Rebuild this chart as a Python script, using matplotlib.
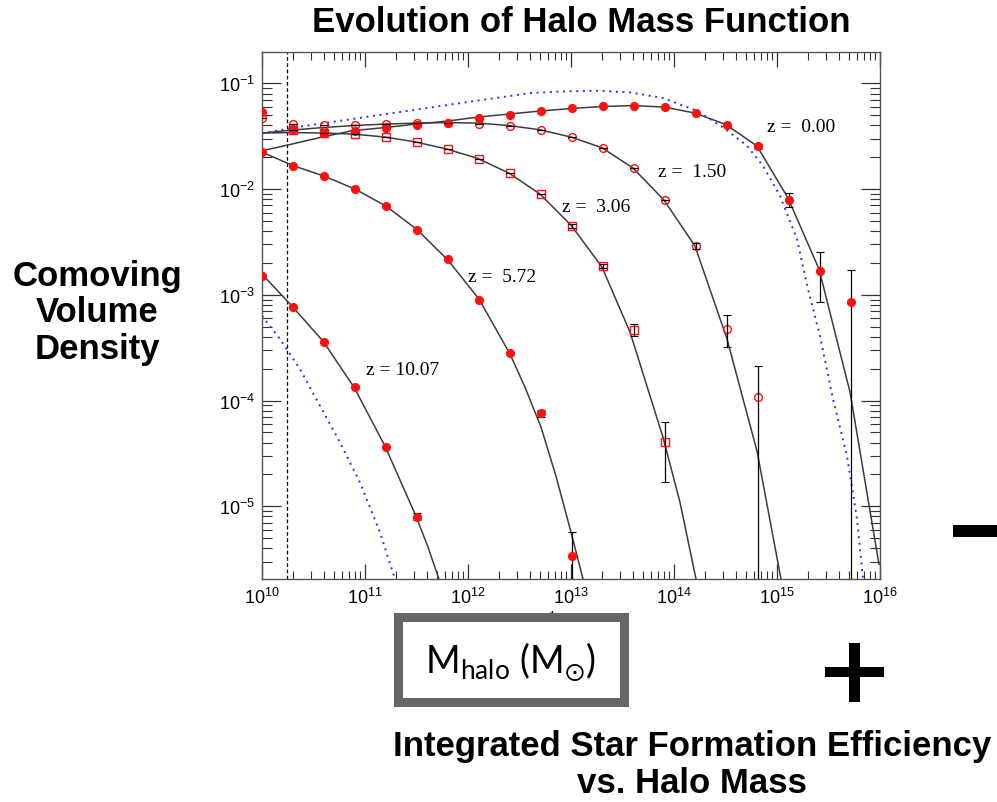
import numpy as np
import matplotlib.pyplot as plt
from matplotlib.patches import Rectangle
from matplotlib.ticker import LogLocator, NullFormatter

plt.rcParams['font.family'] = ['Liberation Sans', 'DejaVu Sans']
plt.rcParams['mathtext.default'] = 'regular'

W, H = 997, 803

# ── data: halo mass grid (factor 2 bins) ─────────────────────
M = [1.0e10, 2.0e10, 4.0e10, 8.0e10, 1.6e11, 3.2e11, 6.4e11, 1.28e12, 2.56e12,
     5.12e12, 1.02e13, 2.05e13, 4.1e13, 8.19e13, 1.64e14, 3.28e14, 6.55e14,
     1.31e15, 2.62e15, 5.24e15]

# simulation points per redshift
z000_m = M[0:20]
z000_n = [0.0535, 0.0370, 0.0339, 0.0352, 0.0375, 0.0403, 0.0421, 0.0466, 0.0504,
          0.0543, 0.0584, 0.0606, 0.0610, 0.0593, 0.0520, 0.0403, 0.0253, 0.00782,
          0.00169, 0.000847]
z000_lo = [0, 0, 0, 0, 0, 0, 0, 0, 0, 0, 0, 0, 0, 0, 0, 0, 0.0015, 0.00106, 0.00084, 0.000846]
z000_hi = [0, 0, 0, 0, 0, 0, 0, 0, 0, 0, 0, 0, 0, 0, 0, 0, 0.0015, 0.00128, 0.00083, 0.00086]

z150_m = M[0:17]
z150_n = [0.047, 0.0412, 0.0403, 0.0403, 0.0412, 0.0421, 0.0421, 0.0417, 0.0397,
          0.0364, 0.0310, 0.0246, 0.0157, 0.00782, 0.00289, 0.000474, 0.000107]
z150_lo = [0, 0, 0, 0, 0, 0, 0, 0, 0, 0, 0, 0, 0, 0, 0.0002, 0.000156, 0.000106]
z150_hi = [0, 0, 0, 0, 0, 0, 0, 0, 0, 0, 0, 0, 0, 0, 0.0002, 0.000169, 0.000106]

z306_m = M[1:14]
z306_n = [0.0362, 0.0339, 0.0331, 0.0308, 0.0278, 0.0239, 0.0192, 0.0141, 0.00897,
          0.00450, 0.00187, 0.000467, 4.02e-5]
z306_lo = [0, 0, 0, 0, 0, 0, 0, 0, 0, 0.0002, 0.00008, 0.000058, 2.34e-5]
z306_hi = [0, 0, 0, 0, 0, 0, 0, 0, 0, 0.0002, 0.00008, 0.000061, 2.27e-5]

z572_m = M[0:11]
z572_n = [0.0225, 0.0166, 0.0134, 0.0100, 0.00686, 0.00412, 0.00218, 0.000898,
          0.000281, 7.55e-5, 3.35e-6]
z572_lo = [0, 0, 0, 0, 0, 0, 0, 0, 0, 5e-6, 3.34e-6]
z572_hi = [0, 0, 0, 0, 0, 0, 0, 0, 0, 5e-6, 2.38e-6]

z1007_m = M[0:6]
z1007_n = [0.00149, 0.000769, 0.000359, 0.000133, 3.65e-5, 7.94e-6]
z1007_lo = [0, 0, 0, 0, 0, 6e-7]
z1007_hi = [0, 0, 0, 0, 0, 6e-7]

# fit curves (log10 M, log10 n)
fit000_lm = [10.0, 10.291, 10.583, 10.874, 11.194, 11.495, 11.796, 12.097, 12.398, 12.699,
             13.0, 13.301, 13.602, 13.903, 14.204, 14.505, 14.806, 15.107, 15.408, 15.709, 15.99]
fit000_ln = [-1.638, -1.574, -1.508, -1.448, -1.418, -1.385, -1.357, -1.319, -1.290, -1.262,
             -1.238, -1.219, -1.210, -1.224, -1.281, -1.390, -1.593, -2.085, -2.757, -3.921, -5.548]
fit150_lm = [10.0, 10.291, 10.592, 10.893, 11.194, 11.495, 11.796, 12.097, 12.398, 12.699,
             13.0, 13.301, 13.602, 13.903, 14.204, 14.515, 14.806, 15.039]
fit150_ln = [-1.470, -1.442, -1.418, -1.399, -1.385, -1.376, -1.371, -1.376, -1.399, -1.439,
             -1.508, -1.609, -1.801, -2.104, -2.539, -3.419, -4.479, -5.690]
fit306_lm = [10.0, 10.291, 10.592, 10.893, 11.194, 11.495, 11.796, 12.097, 12.398, 12.699,
             13.0, 13.301, 13.573, 13.893, 14.058, 14.214]
fit306_ln = [-1.470, -1.465, -1.470, -1.480, -1.508, -1.555, -1.622, -1.711, -1.849, -2.047,
             -2.341, -2.738, -3.353, -4.347, -4.962, -5.690]
fit572_lm = [10.0, 10.301, 10.602, 10.903, 11.204, 11.505, 11.806, 12.107, 12.408, 12.553,
             12.709, 12.854, 13.0, 13.117]
fit572_ln = [-1.650, -1.778, -1.877, -2.000, -2.161, -2.383, -2.672, -3.041, -3.561, -3.873,
             -4.252, -4.715, -5.245, -5.690]
fit1007_lm = [10.0, 10.291, 10.592, 10.893, 11.194, 11.495, 11.612, 11.718]
fit1007_ln = [-2.804, -3.107, -3.438, -3.873, -4.431, -5.094, -5.387, -5.690]

# Press-Schechter, z = 0 and z = 10.07
ps000_lm = [10.0, 10.32, 10.874, 11.437, 11.971, 12.602, 12.922, 13.252, 13.573, 13.893, 14.223,
            14.476, 14.709, 14.864, 15.029, 15.194, 15.301, 15.417, 15.544, 15.68, 15.777, 15.835]
ps000_ln = [-1.473, -1.416, -1.338, -1.257, -1.180, -1.092, -1.076, -1.070, -1.085, -1.139, -1.259,
            -1.416, -1.590, -1.780, -2.063, -2.473, -2.946, -3.388, -3.987, -4.526, -5.122, -5.690]
ps1007_lm = [10.0, 10.175, 10.369, 10.563, 10.757, 10.951, 11.146, 11.291]
ps1007_ln = [-3.199, -3.419, -3.703, -4.050, -4.396, -4.775, -5.248, -5.690]

m_cut = 1.74e10
z_labels = ['z =  0.00', 'z =  1.50', 'z =  3.06', 'z =  5.72', 'z = 10.07']
z_lab_lm = [14.903, 13.845, 12.913, 12.0, 11.01]
z_lab_ln = [-1.404, -1.830, -2.161, -2.823, -3.703]


def fx(px):
    return px / W


def fy(py):
    return 1 - py / H


fig = plt.figure(figsize=(W / 100, H / 100), dpi=100)
ax = fig.add_axes([fx(262), fy(580), 618 / W, 527 / H])

RED = '#ff1010'
FIT = '#3c3c3c'
BLUE = '#2a2aff'

for lm, ln in [(fit000_lm, fit000_ln), (fit150_lm, fit150_ln), (fit306_lm, fit306_ln),
               (fit572_lm, fit572_ln), (fit1007_lm, fit1007_ln)]:
    ax.plot(10 ** np.array(lm), 10 ** np.array(ln), '-', color=FIT, lw=1.1, zorder=2)

for lm, ln in [(ps000_lm, ps000_ln), (ps1007_lm, ps1007_ln)]:
    ax.plot(10 ** np.array(lm), 10 ** np.array(ln), color=BLUE, lw=1.4,
            linestyle=(0, (1, 2.4)), zorder=2)

ax.axvline(m_cut, color='black', lw=0.9, linestyle=(0, (3, 2)), zorder=1)

series = [
    (z000_m, z000_n, z000_lo, z000_hi, 'o', True),
    (z150_m, z150_n, z150_lo, z150_hi, 'o', False),
    (z306_m, z306_n, z306_lo, z306_hi, 's', False),
    (z572_m, z572_n, z572_lo, z572_hi, 'o', True),
    (z1007_m, z1007_n, z1007_lo, z1007_hi, 'o', True),
]
for m, n, lo, hi, mk, filled in series:
    ms = 5.6 if mk == 'o' else 5.2
    ax.plot(m, n, mk, ms=ms, mfc=RED if filled else 'none', mec=RED, mew=1.0, zorder=3)
    # error bars: under the filled dots, over the open ones
    ax.errorbar(m, n, yerr=[lo, hi], fmt='none', ecolor='black', elinewidth=0.9,
                capsize=3.0, capthick=0.8, zorder=2.5 if filled else 4)

for lab, lm, ln in zip(z_labels, z_lab_lm, z_lab_ln):
    ax.text(10 ** lm, 10 ** ln, lab, family='Liberation Serif', fontsize=14,
            ha='left', va='center')

ax.set_xscale('log')
ax.set_yscale('log')
ax.set_xlim(1e10, 1e16)
ax.set_ylim(2.05e-6, 0.198)
ax.xaxis.set_major_locator(LogLocator(base=10, numticks=10))
ax.yaxis.set_major_locator(LogLocator(base=10, numticks=10))
ax.xaxis.set_minor_locator(LogLocator(base=10, subs=np.arange(2, 10), numticks=10))
ax.yaxis.set_minor_locator(LogLocator(base=10, subs=np.arange(2, 10), numticks=10))
ax.xaxis.set_minor_formatter(NullFormatter())
ax.yaxis.set_minor_formatter(NullFormatter())
ax.tick_params(which='both', direction='in', top=True, right=True, colors='#333333',
               labelcolor='black', labelsize=13)
ax.tick_params(axis='x', which='major', length=11, width=0.9, pad=6)
ax.tick_params(axis='x', which='minor', length=5.5, width=0.8)
ax.tick_params(axis='y', which='major', length=13.5, width=0.9, pad=5)
ax.tick_params(axis='y', which='minor', length=7, width=0.8)
for sp in ax.spines.values():
    sp.set_color('#555555')
    sp.set_linewidth(1.0)

# ── surrounding slide texts ──────────────────────────────────
fig.text(fx(581), fy(22), 'Evolution of Halo Mass Function', ha='center', va='center',
         fontsize=25, fontweight='bold')
fig.text(fx(97), fy(313), 'Comoving\nVolume\nDensity', ha='center', va='center',
         fontsize=25, fontweight='bold', linespacing=1.15)
fig.text(fx(692), fy(765), 'Integrated Star Formation Efficiency\nvs. Halo Mass',
         ha='center', va='center', fontsize=25, fontweight='bold', linespacing=1.12)

# original axis label, mostly hidden behind the box
fig.text(fx(537), fy(609), r'Mass [h$^{-1}$ M$_{\odot}$]', ha='center', va='top',
         family='Liberation Serif', fontsize=14, zorder=4)

fig.patches.append(Rectangle((fx(397.5), fy(702.5)), 226 / W, 85 / H, transform=fig.transFigure,
                             facecolor='white', edgecolor='#666666', linewidth=6.5,
                             joinstyle='miter', zorder=5))
fig.text(fx(510), fy(662), r'$\mathregular{M_{halo}}$ $\mathregular{(M_{\odot})}$',
         ha='center', va='center', family='Lato', fontsize=27, zorder=6)

# plus / minus signs
for x0, y0, w, h in [(849, 644, 11, 59), (825, 668, 59, 10), (953, 526, 50, 12)]:
    fig.patches.append(Rectangle((fx(x0), fy(y0 + h)), w / W, h / H, transform=fig.transFigure,
                                 facecolor='black', edgecolor='none', zorder=5))

fig.savefig('out.png', dpi=100)
